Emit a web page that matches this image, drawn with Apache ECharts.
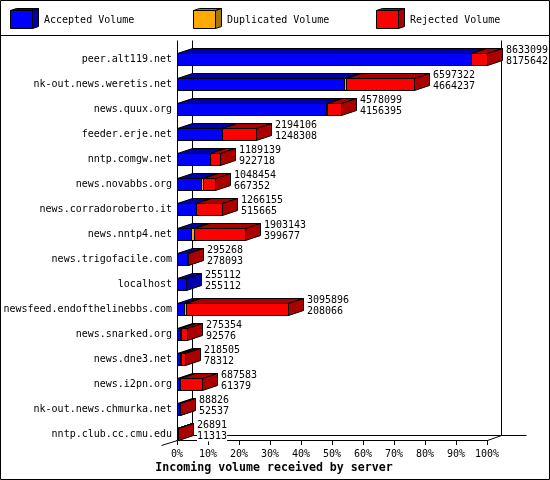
<!DOCTYPE html>
<html><head><meta charset="utf-8">
<style>html,body{margin:0;padding:0;background:#fff}#c{width:550px;height:480px}</style>
<script src="https://cdn.jsdelivr.net/npm/echarts@6/dist/echarts.min.js"></script>
</head><body><div id="c"></div>
<script>
const servers = ['peer.alt119.net','nk-out.news.weretis.net','news.quux.org','feeder.erje.net','nntp.comgw.net','news.novabbs.org','news.corradoroberto.it','news.nntp4.net','news.trigofacile.com','localhost','newsfeed.endofthelinebbs.com','news.snarked.org','news.dne3.net','news.i2pn.org','nk-out.news.chmurka.net','nntp.club.cc.cmu.edu'];
const totalVolume = [8633099,6597322,4578099,2194106,1189139,1048454,1266155,1903143,295268,255112,3095896,275354,218505,687583,88826,26891];
const accepted = [8175642,4664237,4156395,1248308,922718,667352,515665,399677,278093,255112,208066,92576,78312,61379,52537,11313];
const duplicated = [10000,50000,10000,5000,10000,50000,10000,70000,1000,0,50000,5000,30000,30000,1000,0];
const rejected = [447457,1883085,411704,940798,256421,331102,740490,1433466,16175,0,2837830,177778,110193,596204,35289,15578];
const xTicks = ['0%','10%','20%','30%','40%','50%','60%','70%','80%','90%','100%'];
const seriesNames = ['Accepted Volume','Duplicated Volume','Rejected Volume'];
const fronts = ['#0000ff','#ffaa00','#ff0000'];
const darks = ['#0000aa','#aa7700','#aa0000'];
const MONO = '"DejaVu Sans Mono",monospace';
const DX = 15, DY = 5, HALF = 6;
const peak = Math.max(...totalVolume);
const pct = v => v / peak * 100;
const crisp = v => Math.round(v) + 0.5;
const line = (x1,y1,x2,y2) => ({type:'line',shape:{x1,y1,x2,y2},style:{stroke:'#000',lineWidth:1,fill:null}});
const poly = (pts,fill) => ({type:'polygon',shape:{points:pts},style:{fill,stroke:'#000',lineWidth:1}});

function segments(i){
  const stacks = [];
  let base = 0;
  [accepted,duplicated,rejected].forEach((arr,s)=>{
    const start = base, end = base + arr[i];
    stacks.push([pct(start),pct(end),i]);
    base = end;
  });
  return stacks;
}
const rows = servers.map((_,i)=>segments(i));

function barItem(s){
  return function(params,api){
    const a = api.value(0), b = api.value(1), c = api.value(2);
    if(b<=a) return null;
    const p0 = api.coord([a,c]), p1 = api.coord([b,c]);
    const x0 = crisp(p0[0]), x1 = crisp(p1[0]), t = Math.round(p0[1]-HALF)-0.5, bt = Math.round(p0[1]+HALF)-0.5;
    return {type:'group',children:[
      poly([[x0,t],[x0+DX,t-DY],[x1+DX,t-DY],[x1,t]],darks[s]),
      poly([[x1,t],[x1+DX,t-DY],[x1+DX,bt-DY],[x1,bt]],darks[s]),
      poly([[x0,t],[x1,t],[x1,bt],[x0,bt]],fronts[s])
    ]};
  };
}
function frameItem(params,api){
  const g = params.coordSys;
  const L = crisp(g.x), R = crisp(g.x+g.width);
  const front = 440.5, back = front-DY, top = 40.5;
  return {type:'group',children:[
    line(L,top,L,front),
    line(L+DX,top,L+DX,back),
    line(R+DX-1,top,R+DX-1,back),
    line(L+DX,back,R+DX+24,back),
    line(L-16,front+5,L,front),
    line(R,front,R+DX-1,back)
  ]};
}
function labelItem(params,api){
  const i = api.value(2);
  const p = api.coord([api.value(0),i]);
  const x = Math.round(p[0])+DX+4;
  const font = {fontFamily:MONO,fontSize:10,fill:'#000',align:'left',verticalAlign:'middle'};
  return {type:'group',children:[
    {type:'text',style:Object.assign({x,y:p[1]-9,text:String(totalVolume[i]),backgroundColor:'#fff'},font)},
    {type:'text',style:Object.assign({x,y:p[1]+2,text:String(accepted[i]),backgroundColor:'#fff'},font)}
  ]};
}
function cube(x,y,s){
  const w=22,h=18,dx=6,dy=2;
  return [
    poly([[x,y],[x+dx,y-dy],[x+w+dx,y-dy],[x+w,y]],darks[s]),
    poly([[x+w,y],[x+w+dx,y-dy],[x+w+dx,y+h-dy],[x+w,y+h]],darks[s]),
    poly([[x,y],[x+w,y],[x+w,y+h],[x,y+h]],fronts[s])
  ];
}
const legendX = [10.5,193.5,376.5];
const legendGraphics = legendX.flatMap((x,s)=>cube(x,10.5,s).concat([
  {type:'text',style:{x:x+33.5,y:20,text:seriesNames[s],fontFamily:MONO,fontSize:10,fill:'#000',verticalAlign:'middle'}}
]));

const series = [
  {name:'frame',type:'custom',silent:true,z:1,renderItem:frameItem,data:[[0]],encode:{x:0},animation:false}
].concat(seriesNames.map((name,s)=>({
  name,type:'custom',z:2+s,silent:true,animation:false,clip:false,
  renderItem:barItem(s),encode:{x:[0,1],y:2},
  data:rows.map(r=>r[s])
}))).concat([{
  name:'labels',type:'custom',z:6,silent:true,animation:false,clip:false,
  renderItem:labelItem,encode:{x:0,y:2},
  data:servers.map((_,i)=>[pct(totalVolume[i]),0,i])
}]);

const chart = echarts.init(document.getElementById('c'),null,{renderer:'canvas',width:550,height:480,devicePixelRatio:1});
chart.setOption({
  animation:false,
  backgroundColor:'#fff',
  title:{text:'Incoming volume received by server',left:274,top:461,textAlign:'center',padding:0,
    textStyle:{fontFamily:MONO,fontSize:11.6,fontWeight:'bold',color:'#000',lineHeight:14}},
  grid:{left:177,top:47,width:310,height:400,containLabel:false},
  xAxis:{type:'value',min:0,max:100,interval:10,offset:-7,splitLine:{show:false},
    axisLine:{show:true,onZero:false,lineStyle:{color:'#000',width:1}},
    axisTick:{show:true,length:5,lineStyle:{color:'#000',width:1}},
    axisLabel:{margin:9,color:'#000',fontFamily:MONO,fontSize:10,hideOverlap:false,
      formatter:(v)=>xTicks[Math.round(v/10)]}},
  yAxis:{type:'category',inverse:true,data:servers,
    axisLine:{show:false},axisTick:{show:false},splitLine:{show:false},
    axisLabel:{interval:0,margin:5,color:'#000',fontFamily:MONO,fontSize:10,padding:[2,0,0,0]}},
  graphic:[
    {type:'group',silent:true,children:[
      {type:'rect',shape:{x:0.5,y:0.5,width:549,height:479},style:{fill:null,stroke:'#000',lineWidth:1}},
      line(0,35.5,550,35.5)
    ].concat(legendGraphics)}
  ],
  series
});
</script></body></html>
